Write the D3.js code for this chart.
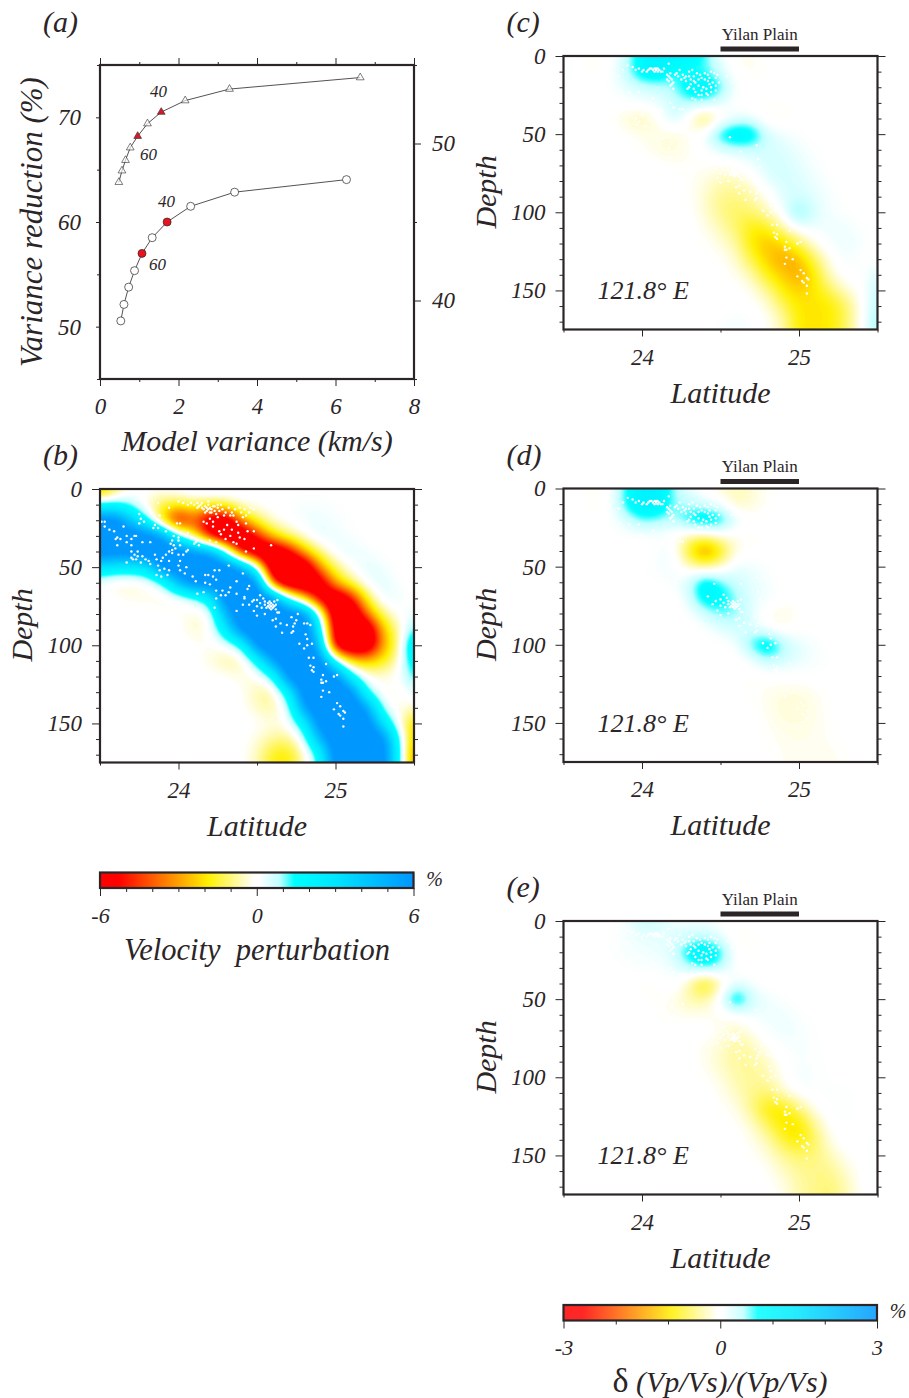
<!DOCTYPE html>
<html>
<head>
<meta charset="utf-8">
<script src="https://cdn.jsdelivr.net/npm/d3@7"></script>
<style>
  html, body { margin: 0; padding: 0; background: #fff; }
  svg { display: block; }
  text { font-family: "Liberation Serif", serif; font-style: italic; fill: #2b2527; }
  .upright { font-style: normal; }
</style>
</head>
<body>
<svg id="fig" width="909" height="1398"></svg>
<script>
// Panel (a): trade-off curves, x = model variance, y = variance reduction
const triVariance = [0.48, 0.56, 0.65, 0.77, 0.96, 1.21, 1.56, 2.17, 3.30, 6.63];
const triReduction = [63.8, 64.9, 65.9, 67.1, 68.2, 69.4, 70.5, 71.6, 72.7, 73.8]; // left axis
const circVariance = [0.53, 0.61, 0.73, 0.88, 1.07, 1.33, 1.71, 2.31, 3.43, 6.28];
const circReduction = [38.7, 39.75, 40.85, 41.9, 43.0, 44.0, 45.0, 46.0, 46.9, 47.7]; // right axis
const redIndexes = [4, 6]; // damping 60 and 40

// Sections sampled every 0.1 deg latitude (23.5-25.5) and 10 km depth (0-180)
const gridB = [
  [-3.5,-1.5,0,0,.2,.3,.5,.8,.5,.3,0,0,0,0,0,0,0,0,0,0,0],
  [1.5,1.5,.8,-.5,-1.5,-1.5,-1,-1.5,-1,-.2,0,0,.1,.2,.2,.1,0,0,0,0,0],
  [7,7,4,1.5,-2.5,-6.5,-4,-7,-7.5,-3,-1.2,-.2,0,.3,.3,.2,.1,0,0,0,0],
  [7,7,7,7,6,1.5,-1.5,-6,-8,-8,-5,-2,-.8,-.1,.5,.3,.1,0,0,0,0],
  [7,7,7,7,7,7,6,6,1.5,-6,-8,-8,-6,-2.5,-.8,.3,.5,.2,0,0,0],
  [3,2.5,2.5,3,7,7,7,7,7,6,1,-8,-8.5,-8,-3,-1,0,.5,.3,0,0],
  [0,-.5,-.5,-.3,.8,5,7,7,7,7,7,-5,-8,-8,-7,-2.5,-1,.3,.5,.1,0],
  [0,0,-.2,-.2,-.4,-.4,.5,2,7,7,7,7,1.5,-2,-6.5,-8,-5.5,-1.5,.5,.3,0],
  [0,0,0,0,0,0,-.4,-.2,5,7,7,7,7,7,1,-8,-8,-3.5,-1,0,.3],
  [0,0,0,0,0,0,-.5,-.2,2.5,7,7,7,7,7,3,-7,-8,-8,-2.5,-.8,1.5],
  [0,0,0,0,0,0,0,-.2,0,1,7,7,7,7,5,-7,-8,-8,-3,-1,3.5],
  [0,0,0,0,0,0,0,-.3,-.8,-.8,1.5,6,7,7,7,1.5,-2,-2.2,-1.8,-.5,2.5],
  [0,0,0,0,0,0,0,0,0,-.3,-.3,1,7,7,7,7,2,-.2,-.2,0,1.5],
  [0,0,0,0,0,0,0,0,0,0,-.7,-.9,2,7,7,7,7,1,-.2,-.3,.5],
  [0,0,0,0,0,0,0,0,0,0,-.5,-.8,.3,6,7,7,7,6,.5,-.3,-.3],
  [0,0,0,0,0,0,0,0,0,0,0,-.3,0,2,7,7,7,7,3,0,-2.5],
  [0,0,0,0,0,0,0,0,0,0,-.3,-.8,-1,.3,5,7,7,7,7,1.5,-3],
  [0,0,0,0,0,0,0,0,0,0,-.5,-1.8,-2,-.5,1.5,7,7,7,7,2,-4],
  [0,0,0,0,0,0,0,0,0,0,-.5,-1.8,-2,-.5,1.5,7,7,7,7,2,-4],
];

const gridC = [
  [.1,0,-.1,0,.3,1,1.1,1.1,1,.7,.1,-.1,-.1,0,0,0,0,0,0,0,0],
  [.1,0,-.1,.05,.4,1,1.1,.7,.6,.6,.3,-.05,-.1,-.05,0,0,0,0,0,0,0],
  [.05,0,0,.05,.2,.3,.35,.45,1,1.2,.7,.05,0,0,0,0,0,0,0,0,0],
  [0,0,0,0,.05,.1,.15,.35,.45,.45,.2,0,-.05,-.05,-.05,0,0,0,0,0,0],
  [0,0,0,-.05,-.2,-.35,-.1,.4,-.1,-.8,-.15,.15,.15,-.15,-.1,0,0,0,0,0,0],
  [0,0,0,0,-.05,-.1,-.15,-.2,-.05,.1,.9,1.2,1.1,.3,.15,.05,0,0,0,0,0],
  [0,0,0,0,0,-.05,-.15,-.2,-.1,.05,.2,.3,.3,.3,.25,.15,.05,0,0,0,0],
  [0,0,0,0,0,0,0,-.05,-.05,-.05,-.1,-.05,.15,.3,.3,.2,.1,0,0,0,0],
  [0,0,0,0,0,0,0,0,-.05,-.15,-.3,-.3,-.1,.2,.3,.25,.15,.05,0,0,0],
  [0,0,0,0,0,0,0,0,-.05,-.2,-.45,-.5,-.35,-.05,.25,.3,.2,.1,0,0,0],
  [0,0,0,0,0,0,0,0,0,-.2,-.45,-.6,-.55,-.3,.1,.8,.25,.1,.05,0,0],
  [0,0,0,0,0,0,0,0,0,-.1,-.3,-.55,-.95,-.85,-.3,.1,.15,.15,.15,.05,0],
  [0,0,0,0,0,0,0,0,0,-.05,-.15,-.35,-1,-1.3,-1.1,-.6,-.1,.1,.2,.1,0],
  [0,0,0,0,0,0,0,0,0,0,-.05,-.2,-.7,-1.2,-1.5,-1.3,-.6,-.05,.1,.05,0],
  [0,0,0,0,0,0,0,0,0,0,0,-.1,-.3,-.9,-1.2,-1.5,-.95,-.2,.05,0,.3],
  [0,0,0,0,0,0,0,0,0,0,0,0,-.1,-.4,-.95,-1.15,-1,-.6,-.2,0,.4],
  [0,0,0,0,0,0,0,0,0,0,0,0,0,-.15,-.6,-1,-1,-1,-.6,-.05,.5],
  [0,0,0,0,0,0,0,0,0,0,.05,.15,.05,-.05,-.3,-1,-1,-.95,-.6,0,.6],
  [0,0,0,0,0,0,0,0,0,0,.05,.15,.05,-.05,-.3,-1,-1,-.95,-.6,0,.6],
];

const gridD = [
  [.05,0,-.1,0,.7,1.1,1.1,.5,.15,-.05,-.2,-.3,-.2,-.05,0,0,0,0,0,0,0],
  [.05,0,-.1,0,.8,1.2,1.2,.5,.4,.25,.05,-.3,-.2,-.05,0,0,0,0,0,0,0],
  [0,0,-.05,.05,.25,.6,.5,.4,.9,1.2,1,.2,0,0,0,0,0,0,0,0,0],
  [0,0,0,0,.05,.05,.05,-.05,-.3,-.3,-.1,-.1,-.05,-.05,0,0,0,0,0,0,0],
  [0,0,0,0,-.05,-.1,.1,.15,-.9,-1.9,-1,-.1,-.05,0,0,0,0,0,0,0,0],
  [0,0,0,0,0,.05,.1,.1,-.2,-.4,-.2,.2,.15,.05,0,0,0,0,0,0,0],
  [0,0,0,0,0,0,.03,.1,.3,1.1,.6,.35,.2,.1,0,0,0,0,0,0,0],
  [0,0,0,0,0,0,-.03,-.05,.25,1,.9,.5,.2,.15,0,0,0,0,0,0,0],
  [0,0,0,0,0,0,-.03,-.03,.05,.3,.6,.55,.2,-.1,-.2,-.05,0,0,0,0,0],
  [0,0,0,0,0,0,0,0,-.03,.05,.2,.3,.3,0,-.1,.03,0,0,0,0,0],
  [0,0,0,0,0,0,0,0,0,-.02,0,.1,.7,1.2,.5,.2,.1,0,0,0,0],
  [0,0,0,0,0,0,0,0,0,0,-.03,-.05,.1,.4,.3,.2,.1,.05,0,0,0],
  [0,0,0,0,0,0,0,0,0,0,0,-.05,-.05,-.02,0,0,.03,0,0,0,0],
  [0,0,0,0,0,0,0,0,0,0,0,0,-.05,-.1,-.15,-.15,-.1,-.03,0,0,0],
  [0,0,0,0,0,0,0,0,0,0,0,0,-.03,-.1,-.2,-.22,-.12,-.03,0,0,0],
  [0,0,0,0,0,0,0,0,0,0,0,0,0,-.07,-.15,-.15,-.12,-.05,0,0,.03],
  [0,0,0,0,0,0,0,0,0,0,0,0,0,-.05,-.1,-.12,-.1,-.06,-.02,0,.03],
  [0,0,0,0,0,0,0,0,0,0,0,0,0,-.02,-.08,-.1,-.1,-.1,-.05,0,.05],
  [0,0,0,0,0,0,0,0,0,0,0,0,0,-.02,-.08,-.1,-.1,-.1,-.05,0,.05],
];

const gridE = [
  [0,0,0,0,.1,.35,.3,.1,.1,.1,.05,-.03,0,0,0,0,0,0,0,0,0],
  [0,0,0,.03,.1,.2,.2,.25,.3,.35,.15,-.08,-.08,0,0,0,0,0,0,0,0],
  [0,0,0,.05,.1,.1,.15,.25,.95,1.3,.8,-.05,-.05,0,0,0,0,0,0,0,0],
  [0,0,0,0,.05,.1,.08,.15,.4,.7,.4,0,-.03,-.05,0,0,0,0,0,0,0],
  [0,0,0,-.03,-.05,-.08,-.05,.1,-.3,-1.2,-.3,.15,.1,-.03,0,0,0,0,0,0,0],
  [0,0,0,0,0,-.02,-.05,-.1,-.35,-.35,.1,1.3,.3,.15,.05,0,0,0,0,0,0],
  [0,0,0,0,0,0,-.05,-.1,-.1,-.1,-.1,-.05,.15,.15,.15,.08,0,0,0,0,0],
  [0,0,0,0,0,0,0,0,.03,.03,-.1,-.25,-.1,.1,.15,.12,.04,0,0,0,0],
  [0,0,0,0,0,0,0,0,-.03,-.1,-.2,-.4,-.3,-.03,.08,.1,.06,0,0,0,0],
  [0,0,0,0,0,0,0,0,0,-.1,-.25,-.4,-.4,-.25,0,.08,.06,.02,0,0,0],
  [0,0,0,0,0,0,0,0,0,-.05,-.15,-.35,-.4,-.35,-.05,.15,.08,.03,0,0,0],
  [0,0,0,0,0,0,0,0,0,0,-.08,-.25,-.45,-.55,-.2,.02,.04,.06,.07,0,0],
  [0,0,0,0,0,0,0,0,0,0,-.05,-.1,-.45,-1,-1,-.5,-.05,.06,.09,0,0],
  [0,0,0,0,0,0,0,0,0,0,0,-.05,-.2,-.6,-1.05,-1.05,-.4,0,.04,0,0],
  [0,0,0,0,0,0,0,0,0,0,0,0,-.1,-.3,-.75,-1.05,-.6,-.1,.03,.03,.08],
  [0,0,0,0,0,0,0,0,0,0,0,0,-.05,-.15,-.4,-.55,-.5,-.3,-.05,0,.1],
  [0,0,0,0,0,0,0,0,0,0,0,0,0,-.05,-.25,-.4,-.45,-.45,-.2,-.03,.1],
  [0,0,0,0,0,0,0,0,0,0,0,.05,.03,-.03,-.1,-.35,-.45,-.55,-.3,-.03,.08],
  [0,0,0,0,0,0,0,0,0,0,0,.05,.03,-.03,-.1,-.35,-.45,-.55,-.3,-.03,.08],
];

// Earthquakes as [latitude, depth]
const quakesSlab = [
  [24.42,69],[24.45,74],[24.47,72],[24.48,78],[24.50,71],[24.50,75],[24.52,68],[24.52,73],[24.53,76],[24.54,70],
  [24.55,72],[24.55,74],[24.56,76],[24.57,73],[24.57,75],[24.58,72],[24.58,74],[24.58,76],[24.59,73],[24.59,75],
  [24.59,77],[24.60,74],[24.60,76],[24.61,72],[24.61,75],[24.62,74],[24.62,77],[24.63,71],[24.63,79],[24.55,80],
  [24.50,81],[24.60,84],[24.64,79],[24.62,83],[24.65,86],[24.62,88],[24.69,87],[24.72,82],[24.76,80],[24.75,84],
  [24.73,88],[24.74,86],[24.80,86],[24.82,86],[24.84,87],[24.66,92],[24.72,92],[24.73,91],[24.81,93],[24.82,96],
  [24.77,99],[24.80,102],[24.82,100],[24.85,99],[24.83,108],[24.86,108],[24.84,113],[24.86,114],[24.94,112],[24.85,116],
  [24.86,117],[24.92,119],[24.99,120],[25.01,119],[24.91,122],[24.92,124],[24.94,123],[24.91,124],[24.92,129],[24.96,130],
  [24.91,133],[25.01,137],[25.03,139],[24.99,141],[25.05,142],[25.02,144],[25.03,145],[25.06,143],[25.05,147],[25.05,152],
];
const quakesWest = [
  [23.51,21],[23.53,21],[23.53,24],[23.56,26],[23.59,27],[23.65,24],[23.67,30],[23.61,31],[23.63,32],[23.60,32],
  [23.61,36],[23.70,32],[23.67,34],[23.72,30],[23.73,30],[23.70,36],[23.77,34],[23.82,34],[23.70,40],[23.74,40],
  [23.72,42],[23.70,44],[23.67,47],[23.71,45],[23.73,45],[23.74,43],[23.77,43],[23.79,45],[23.76,47],[23.85,42],
  [23.86,45],[23.89,46],[23.82,48],[23.81,46],[23.87,49],[23.90,44],[23.92,42],[23.94,40],[23.96,39],[23.96,41],
  [23.98,38],[23.95,35],[23.97,36],[24.00,33],[23.97,30],[24.00,31],[23.96,33],[24.01,36],[24.05,40],[24.06,39],
  [24.00,42],[24.03,42],[24.01,46],[23.94,46],[24.00,49],[24.05,50],[24.01,52],[23.94,52],[23.91,51],[23.88,52],
  [23.86,55],[23.93,55],[24.04,54],[23.89,56],[24.11,34],[24.12,33],[24.10,35],[24.13,36],[24.06,28],[23.75,16],
  [23.76,19],[23.78,21],[23.75,22],[23.85,23],[23.87,25],[23.84,25],[23.92,27],[23.99,22],[24.09,56],[24.11,59],
  [24.17,55],[24.19,55],[24.23,52],[24.22,56],[24.17,60],[24.20,61],[24.24,58],[24.26,52],[24.32,49],[24.41,54],
  [24.45,62],[24.44,64],[24.37,59],[24.33,63],[24.28,65],[24.24,65],[24.32,66],[24.37,67],[24.30,68],[24.27,68],
  [24.12,67],[24.16,66],[24.24,70],[24.23,76],[24.37,78],[24.42,70],[24.48,71],[24.41,74],
];
const quakesTopB = [
  [24.00,8],[24.03,9],[24.06,10],[24.08,9],[24.10,10],[24.12,9],[24.14,10],[24.17,11],[24.18,12],[24.19,10],
  [24.21,13],[24.23,11],[24.25,12],[24.27,10],[24.28,13],[24.32,12],[24.34,15],[24.17,15],[24.20,15],[24.24,16],
  [24.29,17],[24.33,17],[24.42,13],[24.45,15],[24.48,13],[24.43,17],[24.37,21],[24.38,23],[24.43,22],[24.48,27],
  [24.44,27],[24.38,28],[24.34,26],[24.29,26],[24.26,27],[24.22,24],[24.18,22],[24.16,21],[24.20,19],[24.25,18],
  [24.22,21],[24.35,34],[24.37,35],[24.20,33],[24.24,34],[24.30,32],[24.42,32],[24.43,40],[24.48,38],[24.59,36],
  [23.87,9],[23.94,12],[23.82,13],[23.88,17],[24.01,22],[24.16,13],[24.18,14],[24.19,13],[24.20,12],[24.21,15],
  [24.15,12],[24.22,11],[24.26,14],[24.30,15],[24.36,13],[24.40,15],[24.31,23],[24.27,29],[24.33,30],[24.39,31],
  [24.13,11],[24.15,9],[24.19,8],[24.23,14],[24.25,10],[24.35,17],[24.39,12],[24.41,18],[24.46,12],[24.12,12],
];
const quakesTopC = [
  [23.91,6],[23.94,7],[23.96,9],[23.98,8],[24.01,9],[24.04,9],[24.07,9],[24.09,9],[24.10,8],[24.12,10],
  [24.14,8],[24.17,5],[24.16,12],[24.18,14],[24.20,17],[24.18,19],[24.20,21],[24.24,9],[24.26,12],[24.30,10],
  [24.32,9],[24.33,13],[24.35,11],[24.38,14],[24.42,12],[24.44,10],[24.47,14],[24.49,17],[24.43,18],[24.39,20],
  [24.36,19],[24.31,18],[24.29,21],[24.34,23],[24.38,22],[24.44,23],[24.42,25],[24.32,27],[24.38,28],[24.46,28],
  [24.54,13],[24.57,17],[24.66,15],[24.68,17],[24.73,16],[24.76,18],[23.88,9],[23.85,13],[23.86,22],[23.92,23],
  [23.98,23],[24.07,27],[23.99,30],[24.12,34],[24.13,35],[24.20,33],[24.24,34],[24.26,34],[24.18,30],[23.85,43],
  [23.90,48],[23.96,40],[23.98,42],[24.02,45],[24.05,41],[23.97,44],[24.00,38],[24.13,53],[24.19,55],[24.26,53],
  [24.24,58],[24.17,59],[24.22,61],[24.18,65],[24.46,61],[24.63,61],[24.74,66],[24.75,71],[24.56,52],[24.73,57],
  [24.08,8],[24.09,8],[24.10,10],[24.08,10],[24.17,13],[24.19,15],[24.17,16],[24.19,18],[24.40,15],[24.43,14],
  [24.45,17],[24.36,15],[24.34,17],[24.41,21],[24.47,19],[24.28,16],[24.22,11],[24.28,13],[24.38,25],[24.34,28],
  [24.21,12],[24.23,13],[24.25,15],[24.27,14],[24.30,13],[24.31,15],[24.33,16],[24.37,12],[24.40,11],[24.42,16],
  [24.46,11],[24.48,12],[24.44,20],[24.47,22],[24.41,24],[24.36,25],[24.33,21],[24.30,20],[24.16,15],[24.18,11],
  [24.13,10],[24.06,8],[24.03,10],[24.00,10],[24.05,8],[24.11,9],
];

const depthMajor = [0, 50, 100, 150];
const depthMinor = [10, 20, 30, 40, 60, 70, 80, 90, 110, 120, 130, 140, 160, 170];
const latMajor = [24, 25];
const latMinor = [23.5, 24.5, 25.5];
const plainRange = [24.5, 25];
const legendVelocity = [-6, 0, 6];
const legendRatio = [-3, 0, 3];

// Colour table, positions are fractions of the palette half range
const rampStops = [-1, -0.883, -0.31, -0.015, 0.015, 0.15, 0.24, 0.5, 1];
const rampColors = ["#ff0000", "#ff0000", "#fff000", "#ffffff", "#ffffff", "#bcffff", "#00ffff", "#00e6ff", "#0096ff"];
const ramp = d3.scaleLinear().domain(rampStops).range(rampColors).clamp(true);

const ink = "#2b2527";
const svg = d3.select("#fig");
const defs = svg.append("defs");

function label(parent, x, y, text, size, anchor) {
  return parent
    .append("text")
    .attr("x", x)
    .attr("y", y)
    .attr("font-size", size)
    .attr("text-anchor", anchor || "middle")
    .text(text);
}

// d3 axis drawn twice: long ticks with labels, short ticks without
function ticks(parent, axisFn, scale, major, minor, transform, opts) {
  const { long = 7, short = 3, labels = true, pad = 6, size = 23 } = opts || {};
  const g = parent.append("g").attr("transform", transform);
  g.append("g").call(
    axisFn(scale)
      .tickValues(major)
      .tickSize(long)
      .tickSizeOuter(0)
      .tickPadding(pad)
      .tickFormat(labels ? (d) => d : "")
  );
  g.append("g").call(
    axisFn(scale).tickValues(minor).tickSize(short).tickSizeOuter(0).tickFormat("")
  );
  g.selectAll(".domain").remove();
  g.selectAll("line").attr("stroke", ink).attr("stroke-width", 1);
  g.selectAll("text")
    .attr("font-family", null)
    .attr("font-size", size)
    .style("fill", ink);
  return g;
}

function frame(parent, x0, y0, w, h) {
  parent
    .append("rect")
    .attr("x", x0)
    .attr("y", y0)
    .attr("width", w)
    .attr("height", h)
    .attr("fill", "none")
    .attr("stroke", ink)
    .attr("stroke-width", 2.2);
}

// bilinear upsample + blur of the coarse section, then filled contour bands
function heat(g, grid, vmax, x, y) {
  const k = 5;
  const rows = grid.length;
  const cols = grid[0].length;
  const nx = (cols - 1) * k + 1;
  const ny = (rows - 1) * k + 1;
  const data = new Float64Array(nx * ny);
  for (let j = 0; j < ny; j++) {
    const r = Math.min(Math.floor(j / k), rows - 2);
    const fy = j / k - r;
    for (let i = 0; i < nx; i++) {
      const c = Math.min(Math.floor(i / k), cols - 2);
      const fx = i / k - c;
      const top = grid[r][c] * (1 - fx) + grid[r][c + 1] * fx;
      const bot = grid[r + 1][c] * (1 - fx) + grid[r + 1][c + 1] * fx;
      data[j * nx + i] = (top * (1 - fy) + bot * fy) / vmax;
    }
  }
  d3.blur2({ data, width: nx, height: ny }, 1.5);

  const step = 0.0125;
  const levels = d3.range(-1, 1, step);
  const contours = d3.contours().size([nx, ny]).thresholds(levels)(Array.from(data));
  const path = d3.geoPath(
    d3.geoTransform({
      point(px, py) {
        this.stream.point(x(23.5 + ((px - 0.5) / k) * 0.1), y(((py - 0.5) / k) * 10));
      },
    })
  );
  g.append("rect")
    .attr("x", x.range()[0])
    .attr("y", y.range()[0])
    .attr("width", x.range()[1] - x.range()[0])
    .attr("height", y.range()[1] - y.range()[0])
    .attr("fill", ramp(-1));
  g.selectAll("path.band")
    .data(contours)
    .enter()
    .append("path")
    .attr("class", "band")
    .attr("d", path)
    .attr("fill", (d) => ramp(d.value + step / 2));
}

function section(id, x0, y0, grid, vmax, quakes, opts) {
  const w = 314;
  const h = 273.5;
  const x = d3.scaleLinear().domain([23.5, 25.5]).range([x0, x0 + w]);
  const y = d3.scaleLinear().domain([0, 175]).range([y0, y0 + h]);
  const root = svg.append("g");

  defs
    .append("clipPath")
    .attr("id", "clip-" + id)
    .append("rect")
    .attr("x", x0)
    .attr("y", y0)
    .attr("width", w)
    .attr("height", h);
  const plot = root.append("g").attr("clip-path", `url(#clip-${id})`);
  heat(plot, grid, vmax, x, y);

  plot
    .selectAll("circle")
    .data(quakes)
    .enter()
    .append("circle")
    .attr("cx", (d) => x(d[0]))
    .attr("cy", (d) => y(d[1]))
    .attr("r", 1.2)
    .attr("fill", "#fff");

  ticks(root, d3.axisLeft, y, depthMajor, depthMinor, "translate(" + x0 + ",0)", { long: 8, short: 4, pad: 10 });
  ticks(root, d3.axisRight, y, depthMajor, depthMinor, "translate(" + (x0 + w) + ",0)", { long: 8, short: 4, labels: false });
  ticks(root, d3.axisBottom, x, latMajor, latMinor, "translate(0," + (y0 + h) + ")", { long: 7, short: 3, pad: 12 });
  frame(root, x0, y0, w, h);

  label(root, x(24.5), y0 + h + 73, "Latitude", 30);
  root
    .append("text")
    .attr("transform", `translate(${x0 - 68},${y(87)}) rotate(-90)`)
    .attr("font-size", 30)
    .attr("text-anchor", "middle")
    .text("Depth");
  label(root, x0 - 57, y0 - 24, `(${id})`, 30, "start");

  if (opts.plain) {
    root
      .append("rect")
      .attr("x", x(plainRange[0]))
      .attr("y", y0 - 9.5)
      .attr("width", x(plainRange[1]) - x(plainRange[0]))
      .attr("height", 5)
      .attr("fill", ink);
    label(root, x(24.75), y0 - 16.5, "Yilan Plain", 17).attr("class", "upright");
    label(root, x0 + 34, y0 + 243, "121.8° E", 26, "start");
  }
}

function legend(x0, y0, vmax, tickValues, minor) {
  const w = 313.5;
  const h = 15.5;
  const x = d3.scaleLinear().domain([-vmax, vmax]).range([x0, x0 + w]);
  const g = svg.append("g");
  g.selectAll("rect.swatch")
    .data(d3.range(0, w, 1))
    .enter()
    .append("rect")
    .attr("class", "swatch")
    .attr("x", (d) => x0 + d)
    .attr("y", y0)
    .attr("width", 1.2)
    .attr("height", h)
    .attr("fill", (d) => ramp((d + 0.5) / w * 2 - 1));
  ticks(g, d3.axisBottom, x, tickValues, minor, "translate(0," + (y0 + h) + ")", {
    long: 8,
    short: 4,
    pad: 11,
    size: 22,
  });
  frame(g, x0, y0, w, h);
  label(g, x0 + w + 21, y0 + 13, "%", 20);
  return g;
}

// ---- panel (a)
const ax = d3.scaleLinear().domain([0, 8]).range([100, 414]);
const ayL = d3.scaleLinear().domain([45, 75]).range([379, 65]);
const ayR = d3.scaleLinear().domain([35, 55]).range([379, 65]);
const pa = svg.append("g");

ticks(pa, d3.axisBottom, ax, [0, 2, 4, 6, 8], [1, 3, 5, 7], "translate(0,379)", { pad: 12 });
ticks(pa, d3.axisTop, ax, [0, 2, 4, 6, 8], [1, 3, 5, 7], "translate(0,65)", { labels: false });
ticks(pa, d3.axisLeft, ayL, [50, 60, 70], [45, 55, 65, 75], "translate(100,0)", { long: 4, short: 3, pad: 15 });
ticks(pa, d3.axisRight, ayR, [40, 50], [35, 45, 55], "translate(414,0)", { pad: 11 });
frame(pa, 100, 65, 314, 314);

const curveLine = d3.line();
const triPoints = triVariance.map((v, i) => [ax(v), ayL(triReduction[i])]);
const circPoints = circVariance.map((v, i) => [ax(v), ayR(circReduction[i])]);
pa.append("path").attr("d", curveLine(triPoints)).attr("fill", "none").attr("stroke", ink).attr("stroke-width", 0.8);
pa.append("path").attr("d", curveLine(circPoints)).attr("fill", "none").attr("stroke", ink).attr("stroke-width", 0.8);

const triangle = d3.symbol().type(d3.symbolTriangle).size(26);
pa.selectAll("path.tri")
  .data(triPoints)
  .enter()
  .append("path")
  .attr("class", "tri")
  .attr("d", triangle)
  .attr("transform", (d) => `translate(${d[0]},${d[1]})`)
  .attr("fill", (d, i) => (redIndexes.includes(i) ? "#d7182a" : "#fff"))
  .attr("fill-opacity", (d, i) => (redIndexes.includes(i) ? 1 : 0.6))
  .attr("stroke", ink)
  .attr("stroke-width", 0.6);
pa.selectAll("circle.circ")
  .data(circPoints)
  .enter()
  .append("circle")
  .attr("class", "circ")
  .attr("cx", (d) => d[0])
  .attr("cy", (d) => d[1])
  .attr("r", 4)
  .attr("fill", (d, i) => (redIndexes.includes(i) ? "#e8141e" : "#fff"))
  .attr("stroke", ink)
  .attr("stroke-width", 0.7);

label(pa, 150, 97, "40", 17, "start");
label(pa, 140, 160, "60", 17, "start");
label(pa, 158, 207, "40", 17, "start");
label(pa, 149, 270, "60", 17, "start");

label(pa, 257, 451, "Model variance (km/s)", 30);
pa.append("text")
  .attr("transform", "translate(42,222) rotate(-90)")
  .attr("font-size", 31)
  .attr("text-anchor", "middle")
  .text("Variance reduction (%)");
label(pa, 43, 32, "(a)", 30, "start");

// ---- sections
section("b", 100, 489, gridB, 6, quakesSlab.concat(quakesWest, quakesTopB), {});
section("c", 563.5, 56, gridC, 3, quakesSlab.concat(quakesTopC), { plain: true });
section("d", 563.5, 488.5, gridD, 3, quakesSlab.concat(quakesTopC), { plain: true });
section("e", 563.5, 921, gridE, 3, quakesSlab.concat(quakesTopC), { plain: true });

// ---- colour scales
const lv = legend(100, 872.5, 6, legendVelocity, [-5, -4, -3, -2, -1, 1, 2, 3, 4, 5]);
label(lv, 257, 960, "Velocity  perturbation", 30.5).style("white-space", "pre");
const lr = legend(563.5, 1305, 3, legendRatio, [-2, -1, 1, 2]);
const ratioTitle = label(lr, 720, 1392, "", 30);
ratioTitle.append("tspan").attr("class", "upright").attr("font-size", 34).text("δ");
ratioTitle.append("tspan").text(" (Vp/Vs)/(Vp/Vs)");
</script>
</body>
</html>
